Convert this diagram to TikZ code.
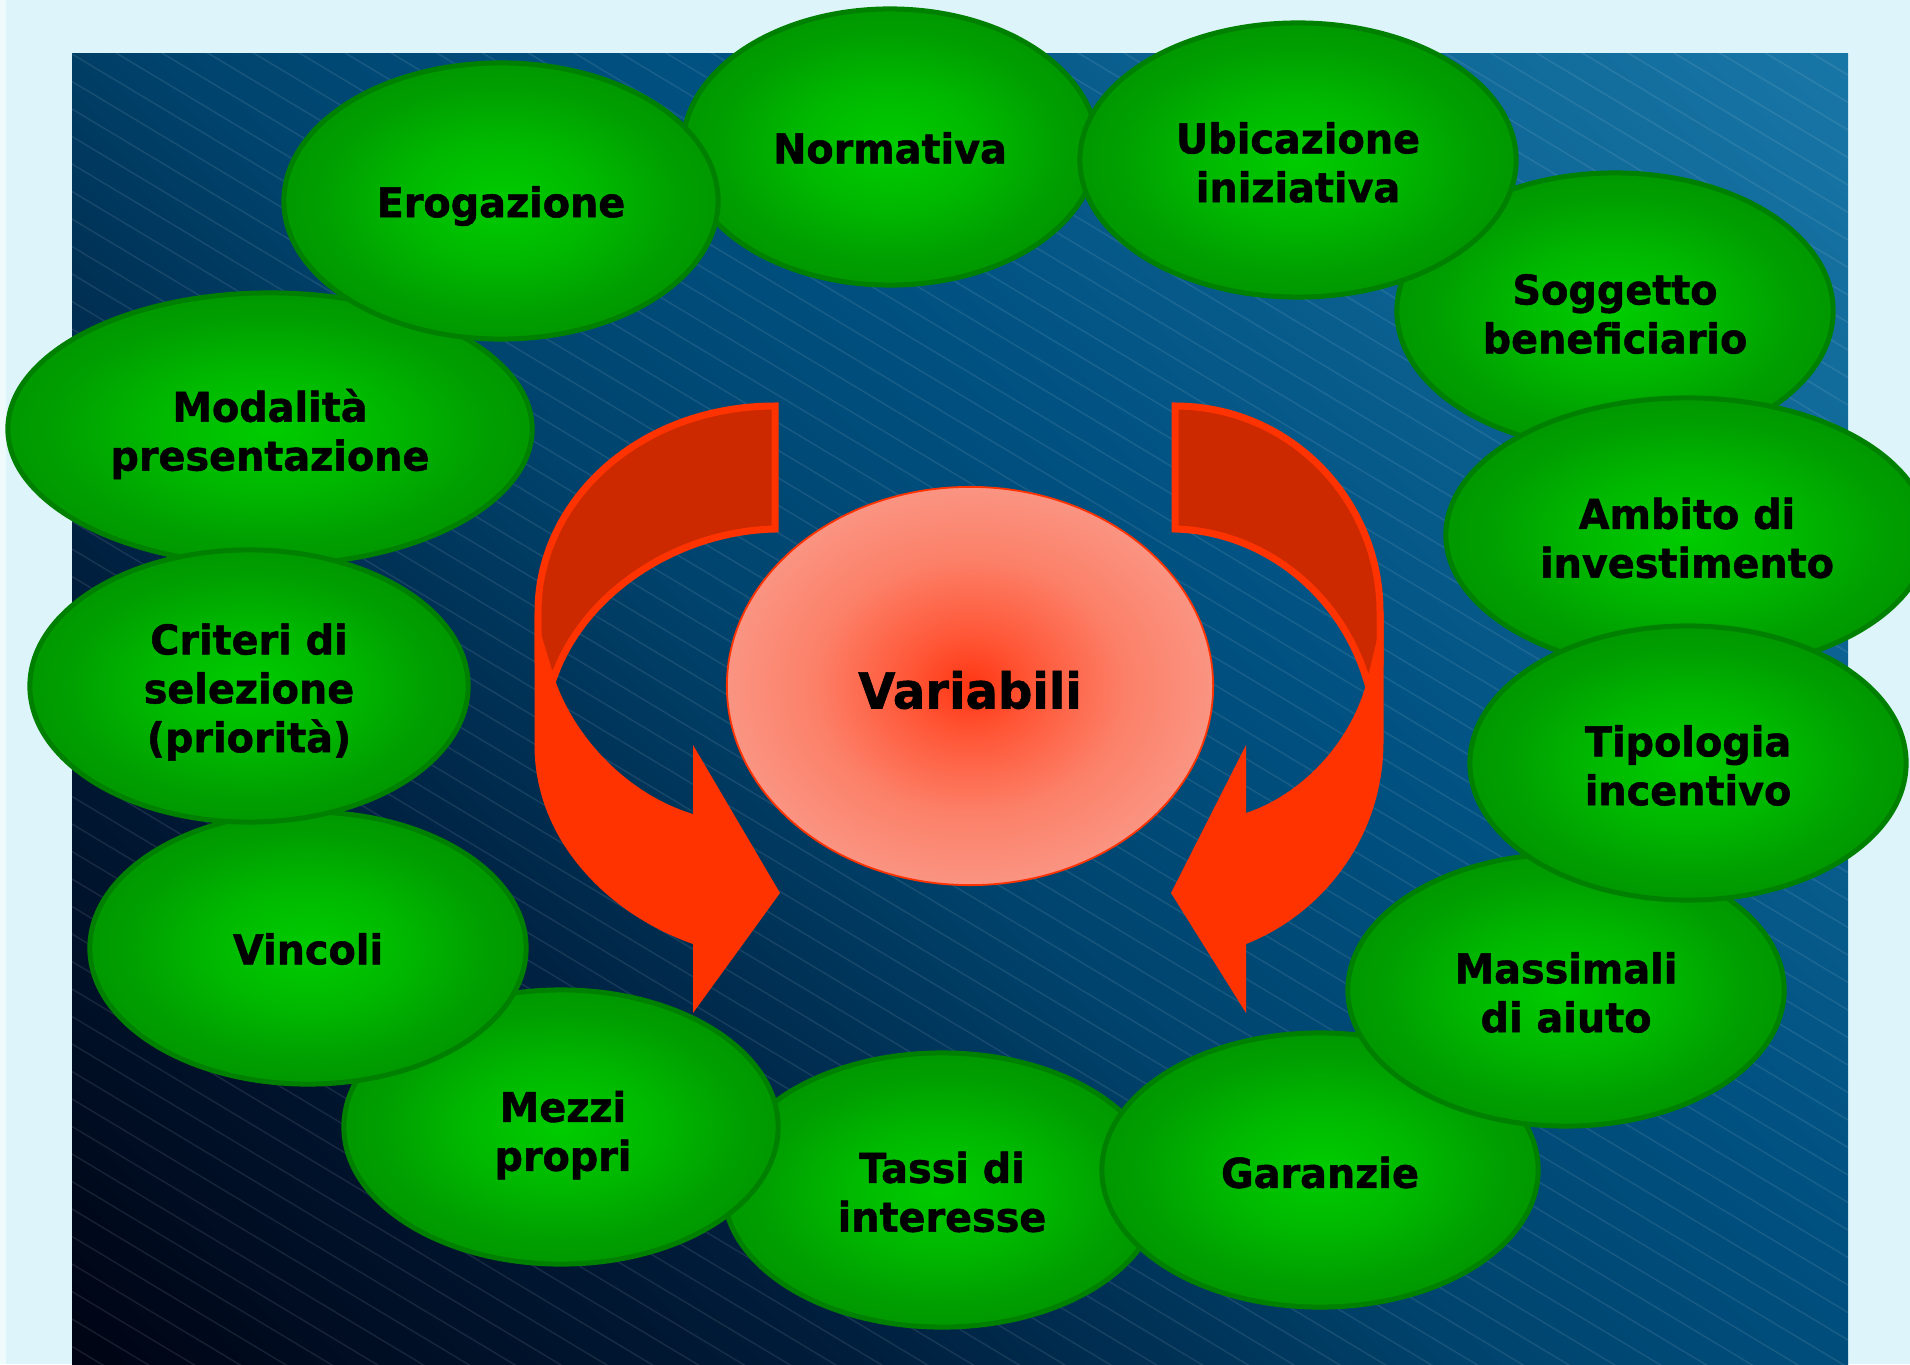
\documentclass[tikz,border=0pt]{standalone}
\usepackage{fontspec}
\setmainfont{DejaVu Sans}[FakeStretch=0.97,FakeBold=1.2]
\usetikzlibrary{shapes.geometric}

\definecolor{pagebg}{HTML}{DDF5FA}
\definecolor{edgestrip}{HTML}{EEFAFC}
\definecolor{bgA}{HTML}{000414}
\definecolor{bgB}{HTML}{001C3A}
\definecolor{bgC}{HTML}{00446E}
\definecolor{bgD}{HTML}{005080}
\definecolor{bgE}{HTML}{1876A6}
\definecolor{gA}{HTML}{00CC00}
\definecolor{gB}{HTML}{00B800}
\definecolor{gC}{HTML}{009E00}
\definecolor{gD}{HTML}{009900}
\definecolor{bubline}{HTML}{008000}
\definecolor{rA}{HTML}{FF3512}
\definecolor{rB}{HTML}{FF5535}
\definecolor{rC}{HTML}{FC8068}
\definecolor{rD}{HTML}{FA9482}
\definecolor{arrowfront}{HTML}{FF3300}
\definecolor{arrowback}{HTML}{CC2900}

\pgfdeclareverticalshading{bgsh}{100bp}{color(0bp)=(bgA); color(14.6bp)=(bgA); color(32bp)=(bgB); color(47bp)=(bgC); color(58bp)=(bgD); color(85.4bp)=(bgE); color(100bp)=(bgE)}
\pgfdeclareradialshading{greensh}{\pgfpoint{0bp}{0bp}}{color(0bp)=(gA); color(11bp)=(gB); color(21bp)=(gC); color(25bp)=(gD); color(50bp)=(gD)}
\pgfdeclareradialshading{redsh}{\pgfpoint{0bp}{0bp}}{color(0bp)=(rA); color(6bp)=(rB); color(16bp)=(rC); color(25bp)=(rD); color(50bp)=(rD)}

\tikzset{
  stripe/.style={white, opacity=0.09, line width=0.015cm},
  bub/.style={ellipse, inner sep=0pt, draw=bubline, line width=0.05cm, shade, shading=greensh},
  bubtext/.style={inner sep=0pt, align=center, font=\bfseries\fontsize{11.65}{13.9}\selectfont, text=black},
  centre/.style={ellipse, inner sep=0pt, draw=arrowfront, line width=0.018cm, shade, shading=redsh},
  centretext/.style={inner sep=0pt, font=\bfseries\fontsize{14.1}{16}\selectfont, text=black},
  backpart/.style={fill=arrowback, draw=arrowfront, line width=0.07cm, line join=miter},
  frontpart/.style={fill=arrowfront},
}

\begin{document}
\begin{tikzpicture}[x=0.01cm,y=-0.01cm]
\useasboundingbox (0,0) rectangle (1910,1364);
\clip (0,0) rectangle (1910,1364);
% page background
\fill[pagebg] (0,0) rectangle (1910,1364);
\fill[edgestrip] (0,0) rectangle (6,1364);
% dark gradient panel
\shade[shading=bgsh, shading angle=-45] (72,54) rectangle (1848,1364);
\begin{scope}
  \clip (72,54) rectangle (1848,1364);
  \foreach \k in {-40,...,48}
    \draw[stripe] (72,54+27.5*\k) -- (1848,54+27.5*\k+1066);
\end{scope}

% left curved arrow
\draw[backpart] (775,406) .. controls (640,406) and (538,500) .. (538,612)
   -- (538,660) -- (554,677) .. controls (585,590) and (680,531) .. (775,529) -- cycle;
\fill[frontpart] (534.5,612) -- (534.5,745) .. controls (534.5,842) and (610,915) .. (693,944)
   -- (693,1013) -- (780,893) -- (693,745) -- (693,814)
   .. controls (630,795) and (575,740) .. (554,677) -- cycle;

% right curved arrow
\draw[backpart] (1175,406) .. controls (1290,406) and (1380,500) .. (1380,612)
   -- (1380,664) -- (1367,681) .. controls (1340,590) and (1260,531) .. (1175,529) -- cycle;
\fill[frontpart] (1383.5,612) -- (1383.5,741) .. controls (1383.5,840) and (1320,915) .. (1246,944)
   -- (1246,1013) -- (1171,893) -- (1246,745) -- (1246,813)
   .. controls (1300,795) and (1350,745) .. (1367,681) -- cycle;

% centre
\node[centre, minimum width=4.86cm, minimum height=3.98cm] (var) at (970,686) {};
\node[centretext] (vart) at ([yshift=-0.04cm]var.center) {Variabili};

% green bubbles (drawing order gives the overlaps)
\node[bub, minimum width=4.36cm, minimum height=2.74cm] (tassi) at (942,1190) {};
\node[bubtext] (tassit) at ([yshift=-0.02cm]tassi.center) {Tassi di\\interesse};
\node[bub, minimum width=4.36cm, minimum height=2.74cm] (garanzie) at (1320,1170) {};
\node[bubtext] (garanziet) at ([yshift=-0.025cm]garanzie.center) {Garanzie};
\node[bub, minimum width=4.36cm, minimum height=2.72cm] (massimali) at (1566,990) {};
\node[bubtext] (massimalit) at ([yshift=-0.025cm]massimali.center) {Massimali\\di aiuto};
\node[bub, minimum width=4.34cm, minimum height=2.74cm] (mezzi) at (561,1127) {};
\node[bubtext] (mezzit) at ([yshift=-0.08cm,xshift=0.02cm]mezzi.center) {Mezzi\\propri};
\node[bub, minimum width=4.36cm, minimum height=2.72cm] (vincoli) at (308,948) {};
\node[bubtext] (vincolit) at ([yshift=-0.01cm]vincoli.center) {Vincoli};
\node[bub, minimum width=4.36cm, minimum height=2.76cm] (soggetto) at (1615,311) {};
\node[bubtext] (soggettot) at ([yshift=-0.03cm]soggetto.center) {Soggetto\\beneficiario};
\node[bub, minimum width=4.82cm, minimum height=2.74cm] (ambito) at (1687,535) {};
\node[bubtext] (ambitot) at ([yshift=-0.03cm]ambito.center) {Ambito di\\investimento};
\node[bub, minimum width=4.36cm, minimum height=2.74cm] (tipologia) at (1688,763) {};
\node[bubtext] (tipologiat) at ([yshift=-0.025cm]tipologia.center) {Tipologia\\incentivo};
\node[bub, minimum width=5.24cm, minimum height=2.72cm] (modalita) at (270,429) {};
\node[bubtext] (modalitat) at ([yshift=-0.05cm]modalita.center) {Modalità\\presentazione};
\node[bub, minimum width=4.38cm, minimum height=2.72cm] (criteri) at (249,686) {};
\node[bubtext] (criterit) at ([yshift=-0.06cm]criteri.center) {Criteri di\\selezione\\(priorità)};
\node[bub, minimum width=4.14cm, minimum height=2.76cm] (normativa) at (890,147) {};
\node[bubtext] (normativat) at ([yshift=-0.01cm]normativa.center) {Normativa};
\node[bub, minimum width=4.34cm, minimum height=2.76cm] (erogazione) at (501,201) {};
\node[bubtext] (erogazionet) at ([yshift=-0.05cm]erogazione.center) {Erogazione};
\node[bub, minimum width=4.36cm, minimum height=2.74cm] (ubicazione) at (1298,160) {};
\node[bubtext] (ubicazionet) at ([yshift=-0.025cm]ubicazione.center) {Ubicazione\\iniziativa};
\end{tikzpicture}
\end{document}
